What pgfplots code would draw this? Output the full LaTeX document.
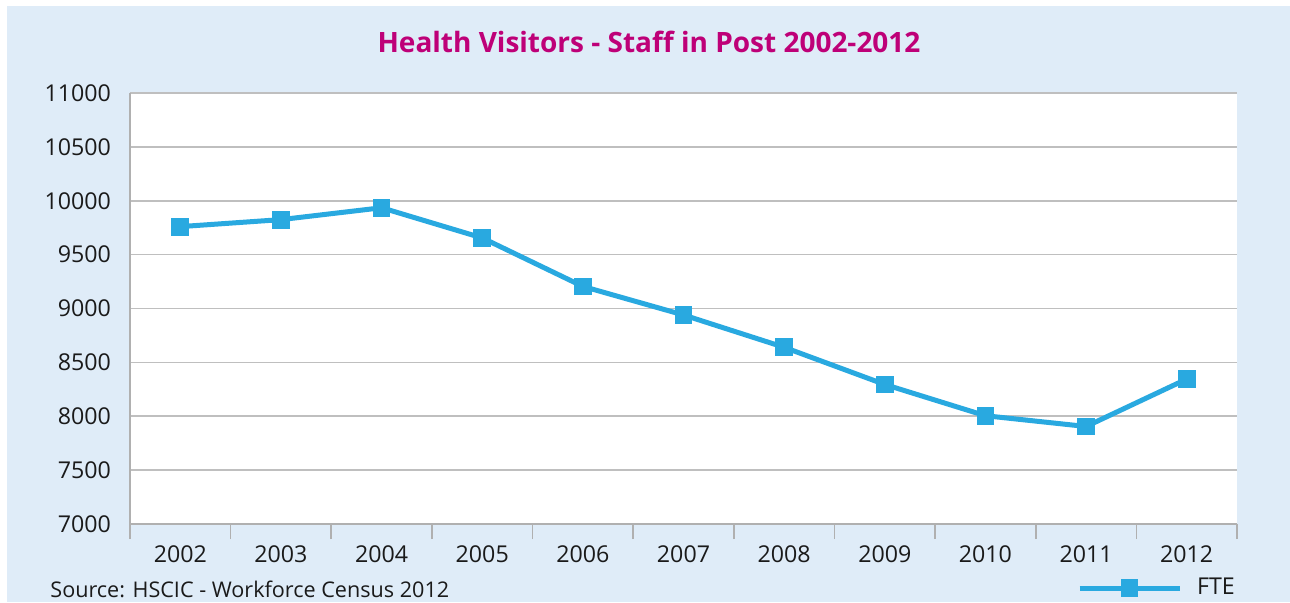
\documentclass[border=0pt]{standalone}
\usepackage{pgfplots}
\pgfplotsset{compat=1.18}
\usepackage{fontspec}
\setmainfont{Open Sans}
\definecolor{bgblue}{HTML}{DFECF8}
\definecolor{gridgray}{HTML}{BFBFBF}
\definecolor{axgray}{HTML}{B0B0B0}
\definecolor{topgray}{HTML}{B4BCC4}
\definecolor{lineblue}{HTML}{29A9E0}
\definecolor{titlemag}{HTML}{BE0078}
\definecolor{txt}{HTML}{1A1A1A}
\begin{document}
\begin{tikzpicture}
\fill[white] (0,0) rectangle (645pt,301pt);
\fill[bgblue] (3.5pt,0) rectangle (645pt,298pt);
\node[anchor=base, text=titlemag, font=\fontsize{14}{16}\selectfont\bfseries] at (324.5pt,275pt) {Health Visitors - Staff in Post 2002-2012};
\node[anchor=base west, inner sep=0pt, text=txt, font=\fontsize{10.8}{12}\selectfont] at (25pt,2.5pt) {Source: HSCIC - Workforce Census 2012};
\begin{axis}[
  at={(65pt,39pt)}, anchor=south west,
  scale only axis, width=553.5pt, height=215.5pt,
  axis background/.style={fill=white},
  xmin=-0.5, xmax=10.5, ymin=7000, ymax=11000,
  enlargelimits=false,
  axis x line*=bottom, axis y line*=left,
  axis line style={-, draw=axgray, line width=0.8pt},
  xtick={0,...,10},
  xticklabels={2002,2003,2004,2005,2006,2007,2008,2009,2010,2011,2012},
  minor xtick={-0.5,0.5,...,10.5},
  tick align=outside,
  major tick length=0pt,
  minor tick length=7.5pt,
  minor tick style={draw=axgray, line width=0.8pt},
  ytick={7000,7500,...,11000},
  scaled y ticks=false,
  yticklabel={\pgfmathprintnumber[fixed,precision=0,1000 sep={}]{\tick}},
  ymajorgrids,
  grid style={draw=gridgray, line width=0.8pt},
  /pgf/number format/1000 sep={},
  /pgf/number format/assume math mode=true,
  ticklabel style={font=\fontsize{11.6}{13}\selectfont, text=txt},
  xticklabel style={yshift=-7.5pt},
  yticklabel style={xshift=-6pt},
  legend style={draw=none, fill=none, inner sep=0pt, outer sep=0pt,
    at={(0.8555,-0.1485)}, anchor=west,
    font=\fontsize{11.6}{13}\selectfont, text=txt,
    /tikz/every odd column/.append style={column sep=5.5pt}},
  legend image code/.code={
    \draw[#1] (0pt,0pt) -- (50pt,0pt);
    \draw[#1] plot coordinates {(25pt,0pt)};
  },
]
\addplot[color=lineblue, line width=2.5pt, mark=square*, mark size=4.2pt,
  mark options={fill=lineblue, draw=lineblue, line width=0pt}]
  coordinates {
  (0,9760) (1,9825) (2,9935) (3,9655) (4,9205) (5,8940)
  (6,8640) (7,8295) (8,8005) (9,7905) (10,8345)
  };
\addlegendentry{FTE}
\end{axis}
\end{tikzpicture}
\end{document}
